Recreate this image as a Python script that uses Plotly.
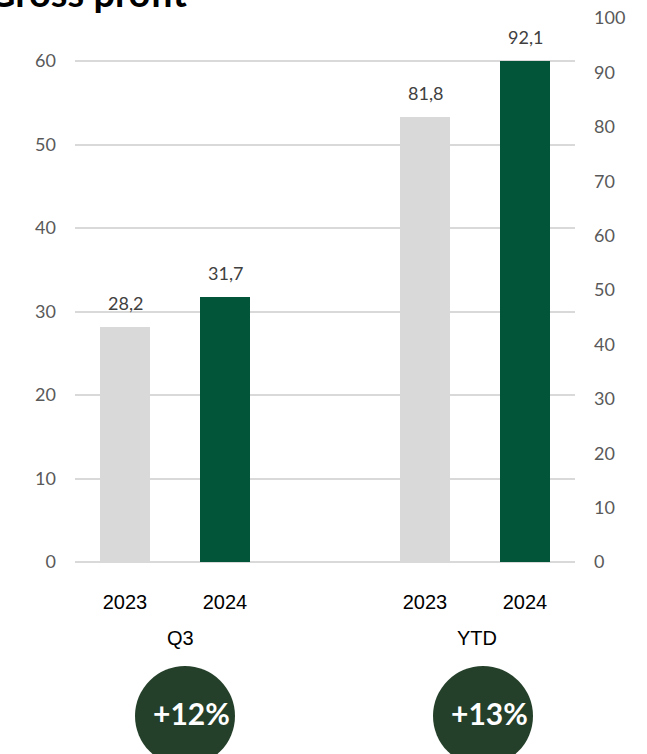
import plotly.graph_objects as go

# Gross profit, Q3 and year to date (left axis: Q3, right axis: YTD)
periods = ["Q3", "YTD"]
years = ["2023", "2024"]
q3_values = [28.2, 31.7]
ytd_values = [81.8, 92.1]
growth_labels = ["+12%", "+13%"]
left_ticks = [0, 10, 20, 30, 40, 50, 60]
right_ticks = [0, 10, 20, 30, 40, 50, 60, 70, 80, 90, 100]

GREY = "#D9D9D9"
GREEN = "#03553A"
BADGE = "#25402A"
NUM_FONT = "Lato"
CAT_FONT = "Liberation Sans, Arial, sans-serif"

bar_colors = [GREY, GREEN]

# category slots: two bars per period with an empty slot between the groups
q3_keys = [f"Q3 {y}" for y in years]
ytd_keys = [f"YTD {y}" for y in years]
spacer = " "
category_order = q3_keys + [spacer] + ytd_keys

fig = go.Figure()
fig.add_trace(go.Bar(
    x=q3_keys, y=q3_values, marker=dict(color=bar_colors, line=dict(width=0)),
    width=0.5, yaxis="y", hoverinfo="skip", showlegend=False,
))
fig.add_trace(go.Bar(
    x=ytd_keys, y=ytd_values, marker=dict(color=bar_colors, line=dict(width=0)),
    width=0.5, yaxis="y2", hoverinfo="skip", showlegend=False,
))

def fmt(v):
    return f"{v:.1f}".replace(".", ",")

annotations = []
for keys, vals, yref in [(q3_keys, q3_values, "y"), (ytd_keys, ytd_values, "y2")]:
    for k, v in zip(keys, vals):
        annotations.append(dict(
            x=k, y=v, xref="x", yref=yref, text=fmt(v), showarrow=False,
            yanchor="middle", yshift=24,
            font=dict(family=NUM_FONT, size=18, color="#404040"),
        ))

# plot area geometry (pixels) used to place the texts below the axis
W, H = 647, 754
ML, MR, MT, MB = 75, 72, 18, 192
PH = H - MT - MB
PW = W - ML - MR

def py(pix):
    return (H - MB - pix) / PH

def px(pix):
    return (pix - ML) / PW

# period names under the year labels
group_x = [0.55, 3.52]
for name, gx in zip(periods, group_x):
    annotations.append(dict(
        x=gx, y=py(638), xref="x", yref="paper", text=name, showarrow=False,
        yanchor="middle", font=dict(family=CAT_FONT, size=20, color="#000000"),
    ))

# growth badges
badge_x = [0.6, 3.58]
shapes = []
for lbl, bx in zip(growth_labels, badge_x):
    shapes.append(dict(
        type="circle", xref="x", yref="paper",
        xsizemode="pixel", ysizemode="pixel",
        xanchor=bx, yanchor=py(716),
        x0=-50, x1=50, y0=-50, y1=50,
        fillcolor=BADGE, line=dict(width=0), layer="above",
    ))
    annotations.append(dict(
        x=bx + 0.06, y=py(713), xref="x", yref="paper", text=lbl, showarrow=False,
        yanchor="middle", font=dict(family=NUM_FONT, size=30, color="#FFFFFF", weight="bold"),
    ))

# title
annotations.append(dict(
    x=px(-14), y=py(-8), xref="paper", yref="paper", text="<b>Gross profit</b>",
    showarrow=False, xanchor="left", yanchor="middle",
    font=dict(family=NUM_FONT, size=38, color="#000000"),
))

left_px_per_unit = (562 - 61) / 60

fig.update_layout(
    width=W, height=H, autosize=False,
    margin=dict(l=ML, r=MR, t=MT, b=MB, pad=0),
    paper_bgcolor="white", plot_bgcolor="white",
    bargap=0, showlegend=False,
    xaxis=dict(
        type="category", categoryorder="array", categoryarray=category_order,
        range=[-0.5, 4.5], tickvals=q3_keys + ytd_keys, ticktext=years + years,
        showgrid=False, zeroline=False, showline=False, ticks="",
        tickfont=dict(family=CAT_FONT, size=20, color="#000000"),
        ticklabelstandoff=26, automargin=False,
    ),
    yaxis=dict(
        range=[0, PH / left_px_per_unit], tickvals=left_ticks,
        showgrid=True, gridcolor=GREY, gridwidth=2,
        zeroline=True, zerolinecolor=GREY, zerolinewidth=2,
        showline=False, ticks="",
        tickfont=dict(family=NUM_FONT, size=18, color="#595959"),
        ticklabelstandoff=18, automargin=False,
    ),
    yaxis2=dict(
        overlaying="y", side="right", range=[0, 100], tickvals=right_ticks,
        showgrid=False, zeroline=False, showline=False, ticks="",
        tickfont=dict(family=NUM_FONT, size=18, color="#595959"),
        ticklabelstandoff=18, automargin=False,
    ),
    annotations=annotations,
    shapes=shapes,
)

fig.write_html("out.html")
